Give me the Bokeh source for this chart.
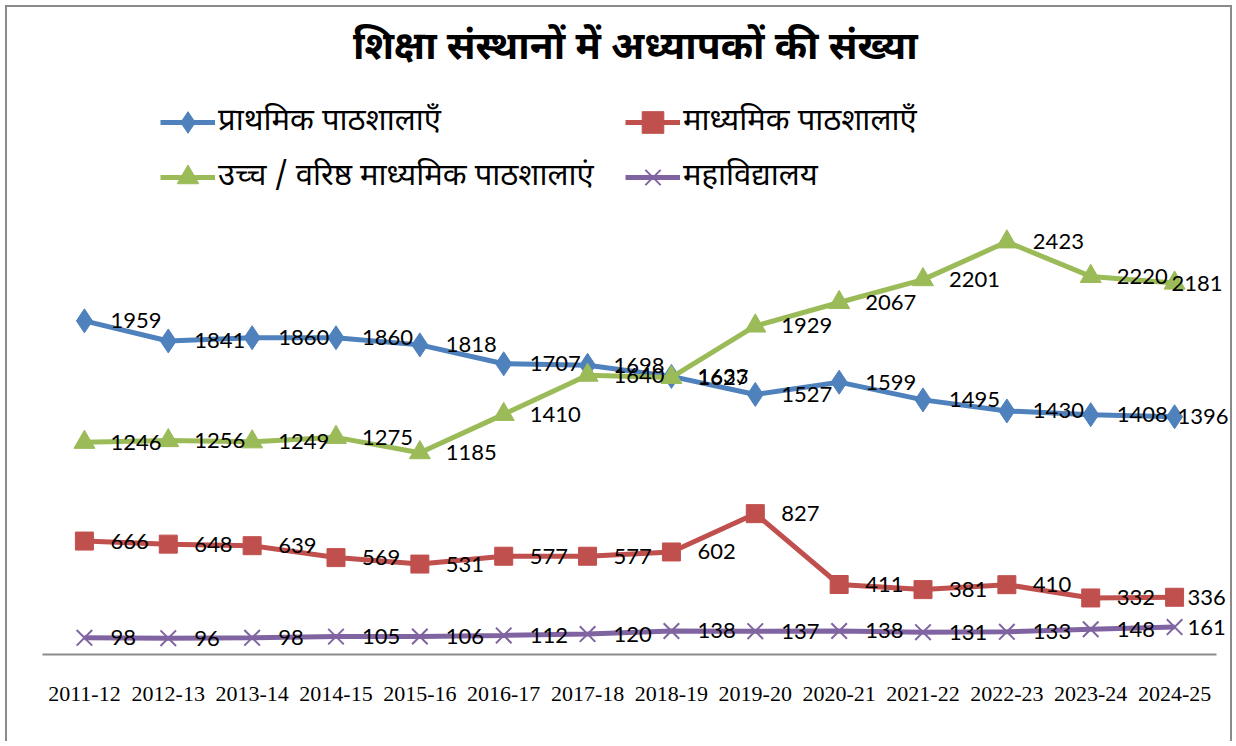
from bokeh.plotting import figure
from bokeh.models import FactorRange, Range1d, Label, Legend, LegendItem, LabelSet, ColumnDataSource
from bokeh.core.properties import value
from bokeh.embed import file_html
from bokeh.resources import INLINE

# ---- data ----
years = ["2011-12", "2012-13", "2013-14", "2014-15", "2015-16", "2016-17", "2017-18",
         "2018-19", "2019-20", "2020-21", "2021-22", "2022-23", "2023-24", "2024-25"]
primary = [1959, 1841, 1860, 1860, 1818, 1707, 1698, 1633, 1527, 1599, 1495, 1430, 1408, 1396]
secondary = [666, 648, 639, 569, 531, 577, 577, 602, 827, 411, 381, 410, 332, 336]
higher = [1246, 1256, 1249, 1275, 1185, 1410, 1640, 1627, 1929, 2067, 2201, 2423, 2220, 2181]
college = [98, 96, 98, 105, 106, 112, 120, 138, 137, 138, 131, 133, 148, 161]

names = ["प्राथमिक पाठशालाएँ", "माध्यमिक पाठशालाएँ",
         "उच्च / वरिष्ठ माध्यमिक पाठशालाएं", "महाविद्यालय"]
title_text = "शिक्षा संस्थानों में अध्यापकों की संख्या"

DEV = "'Noto Sans Devanagari', 'Noto Sans', sans-serif"

# label x-offsets (px): labels of the last point are pulled back inside the chart area
LABEL_OFF = 26
last_off = [3, 13, -3, 13]

p = figure(width=1227, height=736, output_backend="svg", toolbar_location=None,
           x_range=FactorRange(*years, range_padding=0.143, range_padding_units="absolute"),
           y_range=Range1d(0, 3799),
           y_axis_location=None,
           min_border_left=23, min_border_right=6, min_border_top=0, min_border_bottom=89)
p.outline_line_color = None
p.xgrid.grid_line_color = None
p.ygrid.grid_line_color = None
p.background_fill_color = "white"
p.border_fill_color = "white"
p.styles = {"margin-left": "5px", "margin-top": "5px",
            "border-left": "2px solid #8a8a8a", "border-top": "2px solid #8a8a8a",
            "border-right": "2px solid #8a8a8a"}

ax = p.xaxis[0]
ax.bounds = (0, len(years))
ax.axis_line_color = "#8c8c8c"
ax.axis_line_width = 2
ax.major_tick_line_color = None
ax.minor_tick_line_color = None
ax.major_label_standoff = 26
ax.major_label_text_font = "Liberation Serif"
ax.major_label_text_font_size = "22px"
ax.major_label_text_color = "black"

series = [
    (primary, "#4F81BD", "diamond", 24),
    (secondary, "#C0504D", "square", 18),
    (higher, "#9BBB59", "triangle", 21),
    (college, "#8064A2", "x", 22),
]

items = []
for k, ((vals, color, marker, size), name) in enumerate(zip(series, names)):
    lr = p.line(years, vals, line_color=color, line_width=5)
    if marker == "x":
        sr = p.scatter(years, vals, marker=marker, size=size, line_color=color, line_width=2)
    else:
        sr = p.scatter(years, vals, marker=marker, size=size, fill_color=color, line_color=color)
    offs = [LABEL_OFF] * (len(vals) - 1) + [last_off[k]]
    src = ColumnDataSource(dict(x=years, y=vals, t=[str(v) for v in vals], o=offs))
    p.add_layout(LabelSet(x="x", y="y", text="t", source=src, x_offset="o",
                          text_baseline="middle", text_align="left", text_color="black",
                          text_font=value("Lato"), text_font_size="22px"))
    items.append(LegendItem(label=name, renderers=[lr, sr]))

common = dict(orientation="vertical", label_height=54, glyph_height=54, glyph_width=55,
              spacing=1, padding=0, margin=0, label_standoff=3,
              border_line_color=None, background_fill_alpha=0,
              label_text_font=DEV, label_text_font_size="31px", label_text_color="black")
p.add_layout(Legend(items=[items[0], items[2]], location=(130, 450), **common))
p.add_layout(Legend(items=[items[1], items[3]], location=(595, 450), **common))

title = Label(x=7.07, y=3555, text=title_text, text_align="center", text_baseline="middle",
              text_font=DEV, text_font_size="39px", text_font_style="bold", text_color="black")
p.add_layout(title)

open("out.html", "w").write(file_html(p, INLINE))
